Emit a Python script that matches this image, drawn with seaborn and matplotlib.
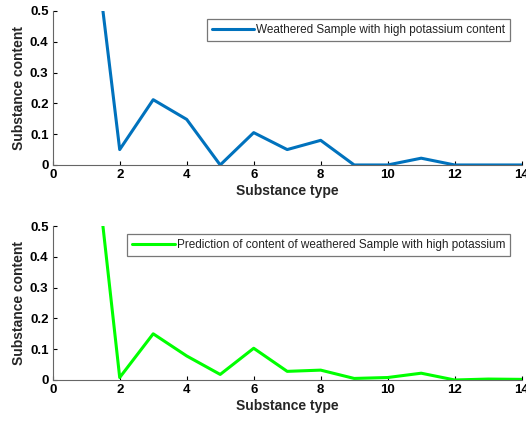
import matplotlib
matplotlib.use('Agg')
import matplotlib.pyplot as plt
import pandas as pd
import seaborn as sns

# ---------------------------
# Data
# ---------------------------
substance_type = [1, 2, 3, 4, 5, 6, 7, 8, 9, 10, 11, 12, 13, 14]
measured = [0.95, 0.05, 0.212, 0.148, 0.0, 0.105, 0.05, 0.08, 0.0, 0.0, 0.022, 0.0, 0.0, 0.0]
predicted = [0.99, 0.008, 0.15, 0.078, 0.018, 0.103, 0.028, 0.032, 0.005, 0.008, 0.022, 0.0, 0.003, 0.002]

label_measured = "Weathered Sample with high potassium content"
label_predicted = "Prediction of content of weathered Sample with high potassium"

df_top = pd.DataFrame({"type": substance_type, "content": measured})
df_bot = pd.DataFrame({"type": substance_type, "content": predicted})

# ---------------------------
# Plot
# ---------------------------
sns.set_style("white")
plt.rcParams['font.family'] = ['Liberation Sans', 'DejaVu Sans']

fig = plt.figure(figsize=(5.26, 4.23), dpi=100)
ax1 = fig.add_axes([0.1002, 0.610, 0.8916, 0.364])
ax2 = fig.add_axes([0.1002, 0.1017, 0.8916, 0.364])

panels = [
    (ax1, df_top, "#0072BD", label_measured),
    (ax2, df_bot, "#00FF00", label_predicted),
]

for ax, df, color, lab in panels:
    sns.lineplot(data=df, x="type", y="content", ax=ax, color=color,
                 linewidth=2.2, label=lab)
    ax.set_xlim(0, 14)
    ax.set_ylim(0, 0.5)
    ax.set_xticks(range(0, 15, 2))
    ax.set_yticks([0, 0.1, 0.2, 0.3, 0.4, 0.5])
    ax.set_yticklabels(["0", "0.1", "0.2", "0.3", "0.4", "0.5"])
    ax.set_xlabel("Substance type", fontweight="bold", fontsize=10, labelpad=2)
    ax.set_ylabel("Substance content", fontweight="bold", fontsize=10, labelpad=3)
    ax.tick_params(axis="both", direction="in", length=3, width=0.8,
                   labelsize=9.5, pad=3, colors="black", bottom=True, left=True)
    for t in ax.get_xticklabels() + ax.get_yticklabels():
        t.set_fontweight("bold")
    for s in ["top", "right"]:
        ax.spines[s].set_visible(False)
    for s in ["left", "bottom"]:
        ax.spines[s].set_color("#666666")
        ax.spines[s].set_linewidth(0.8)
    leg = ax.legend(loc="upper right", bbox_to_anchor=(0.976, 0.945),
                    fontsize=8.5, frameon=True, fancybox=False,
                    handlelength=3.6, handletextpad=0.2, borderpad=0.42,
                    borderaxespad=0.0)
    leg.get_frame().set_edgecolor("#555555")
    leg.get_frame().set_linewidth(0.9)
    for t in leg.get_texts():
        t.set_color("#222222")

fig.savefig("out.png", dpi=100)
plt.close(fig)
